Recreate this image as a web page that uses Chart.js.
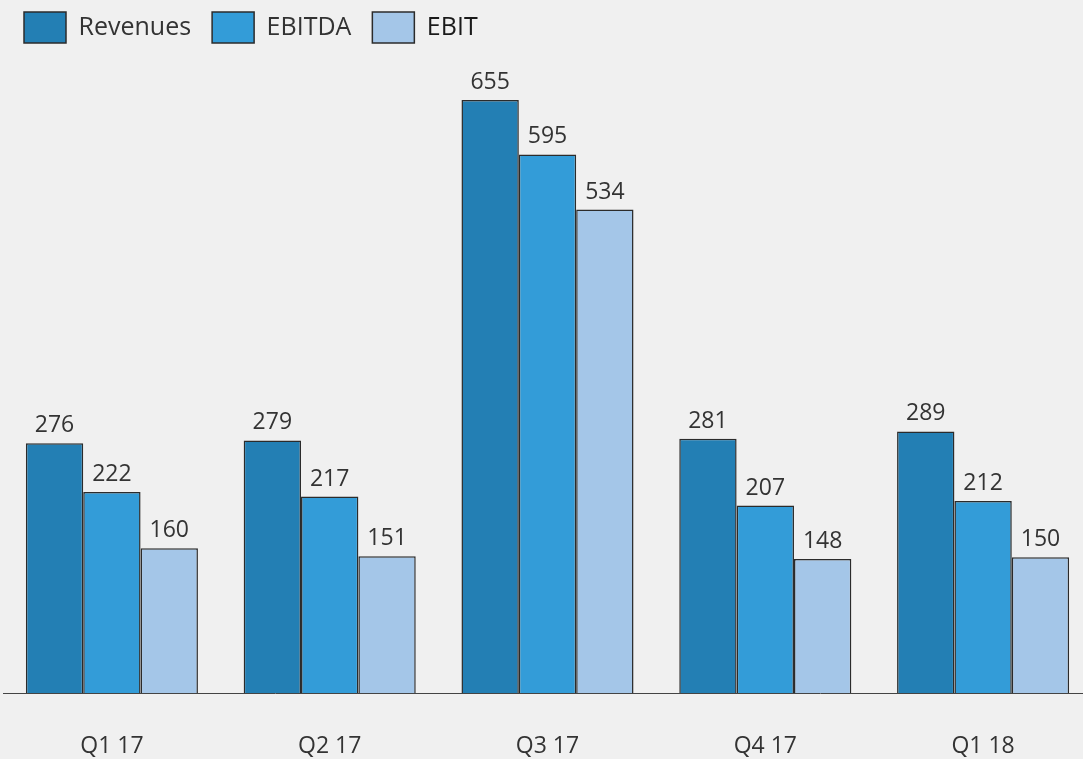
<!DOCTYPE html>
<html lang="en">
<head>
    <meta charset="utf-8">
    <title>Revenues, EBITDA, EBIT</title>
    <script src="https://cdn.jsdelivr.net/npm/chart.js"></script>
    <style>
        html, body { margin: 0; padding: 0; background: #f0f0f0; overflow: hidden; }
        #wrap { width: 1100px; height: 759px; position: relative; }
    </style>
</head>
<body>
    <div id="wrap"><canvas id="kpiChart"></canvas></div>

    <script>
        // values
        const quarters = ['Q1 17', 'Q2 17', 'Q3 17', 'Q4 17', 'Q1 18'];
        const revenues = [276, 279, 655, 281, 289];
        const ebitda = [222, 217, 595, 207, 212];
        const ebit = [160, 151, 534, 148, 150];

        const textColor = '#333333';
        const fontFamily = '"Open Sans", "Noto Sans", sans-serif';

        // value labels above each bar
        const barValues = {
            id: 'barValues',
            afterDatasetsDraw(chart) {
                const ctx = chart.ctx;
                ctx.save();
                ctx.font = '23px ' + fontFamily;
                ctx.fillStyle = textColor;
                ctx.textAlign = 'center';
                ctx.textBaseline = 'bottom';
                chart.data.datasets.forEach((ds, i) => {
                    chart.getDatasetMeta(i).data.forEach((bar, j) => {
                        ctx.fillText(ds.data[j], bar.x, bar.y - 6);
                    });
                });
                ctx.restore();
            }
        };

        const ctx = document.getElementById('kpiChart').getContext('2d');
        new Chart(ctx, {
            type: 'bar',
            data: {
                labels: quarters,
                datasets: [{
                    label: 'Revenues',
                    data: revenues,
                    backgroundColor: '#237fb4',
                    borderColor: '#2b2b2b',
                    borderWidth: 1.5
                }, {
                    label: 'EBITDA',
                    data: ebitda,
                    backgroundColor: '#339cd8',
                    borderColor: '#2b2b2b',
                    borderWidth: 1.5
                }, {
                    label: 'EBIT',
                    data: ebit,
                    backgroundColor: '#a4c6e8',
                    borderColor: '#2b2b2b',
                    borderWidth: 1.5
                }]
            },
            options: {
                responsive: true,
                maintainAspectRatio: false,
                animation: false,
                layout: {
                    padding: { left: 3, right: 8, top: -9, bottom: 0 }
                },
                datasets: {
                    bar: { barPercentage: 1, categoryPercentage: 0.79 }
                },
                scales: {
                    x: {
                        grid: { display: false },
                        border: { display: true, color: '#444444', width: 1 },
                        ticks: {
                            color: textColor,
                            font: { family: fontFamily, size: 23 },
                            padding: 32
                        },
                        afterFit(scale) {
                            scale.height = 66;
                        }
                    },
                    y: {
                        display: false,
                        min: 0,
                        max: 707
                    }
                },
                plugins: {
                    legend: {
                        position: 'top',
                        align: 'start',
                        labels: {
                            boxWidth: 42,
                            boxHeight: 31,
                            padding: 21,
                            color: textColor,
                            font: { family: fontFamily, size: 25 },
                            generateLabels(chart) {
                                const items = Chart.defaults.plugins.legend.labels.generateLabels(chart);
                                // last entry is a touch darker in the original
                                items[items.length - 1].fontColor = '#1a1a1a';
                                return items;
                            }
                        }
                    },
                    tooltip: { enabled: false }
                }
            },
            plugins: [barValues]
        });
    </script>
</body>
</html>
